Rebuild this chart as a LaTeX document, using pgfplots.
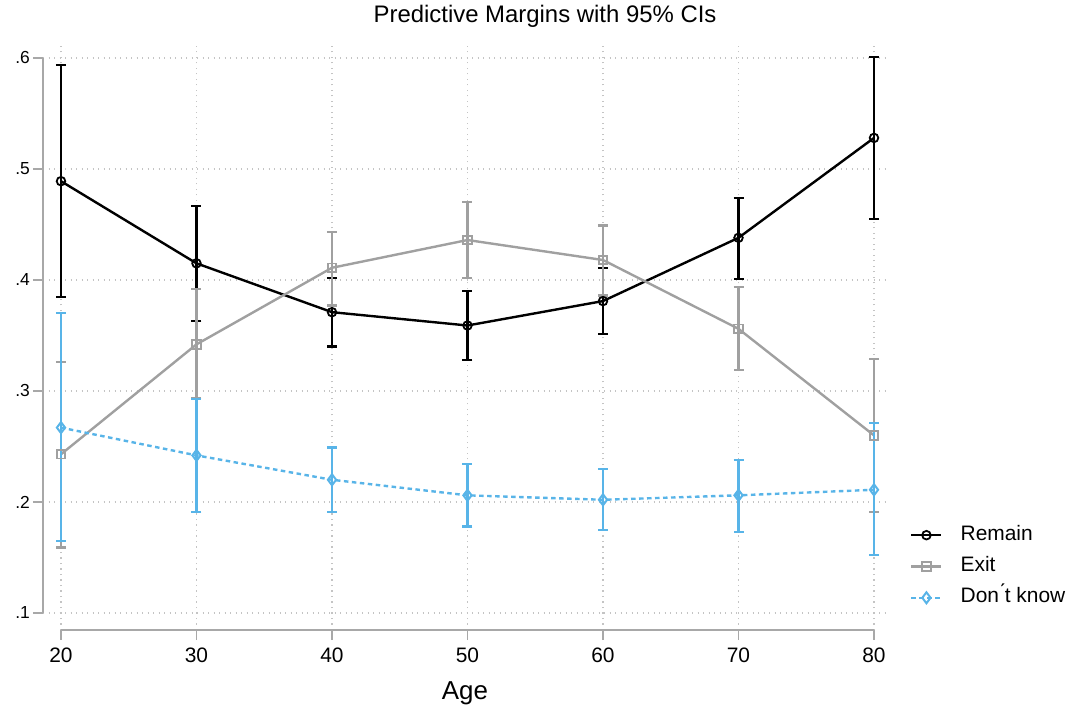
\documentclass[border=0pt]{standalone}
\usepackage{pgfplots}
\pgfplotsset{compat=1.18}
\usepackage{pgfplotstable}
\usepackage{fontspec}
\setmainfont{Liberation Sans}
\definecolor{exitgray}{HTML}{A0A0A0}
\definecolor{dkblue}{HTML}{58B4E8}
\definecolor{axgray}{HTML}{A8A8A8}
\definecolor{gridgray}{HTML}{C4C4C4}

\pgfplotstableread{
x y lo hi
20 0.489 0.385 0.594
30 0.415 0.363 0.467
40 0.371 0.340 0.402
50 0.359 0.328 0.390
60 0.381 0.351 0.411
70 0.438 0.401 0.474
80 0.528 0.455 0.601
}\remain
\pgfplotstableread{
x y lo hi
20 0.243 0.159 0.326
30 0.342 0.294 0.392
40 0.411 0.377 0.443
50 0.436 0.402 0.470
60 0.418 0.386 0.449
70 0.356 0.319 0.394
80 0.260 0.191 0.329
}\exit
\pgfplotstableread{
x y lo hi
20 0.267 0.165 0.370
30 0.242 0.191 0.293
40 0.220 0.191 0.249
50 0.206 0.178 0.234
60 0.202 0.175 0.230
70 0.206 0.173 0.238
80 0.211 0.152 0.271
}\dk

\begin{document}
\begin{tikzpicture}
\begin{axis}[
  scale only axis,
  width=844bp, height=586bp,
  xmin=18.672, xmax=80.96,
  ymin=0.08468, ymax=0.6126,
  clip=false,
  axis line style={draw=none},
  tick pos=left,
  tick align=outside,
  major tick length=10bp,
  tick style={axgray, line width=1.4bp},
  xtick={20,30,40,50,60,70,80},
  ytick={0.1,0.2,0.3,0.4,0.5,0.6},
  yticklabels={.1,.2,.3,.4,.5,.6},
  /pgf/number format/assume math mode=true,
  yticklabel style={font=\fontsize{17.5}{20}\selectfont, inner sep=0pt, anchor=east, xshift=-3bp},
  xticklabel style={font=\fontsize{21}{24}\selectfont, inner sep=0pt, anchor=base, yshift=-22bp},
  grid=major,
  major grid style={gridgray, line width=1.3bp, dash pattern=on 1.3bp off 4.2bp},
  title={Predictive Margins with 95\% CIs},
  title style={font=\fontsize{24}{27}\selectfont, at={(0.5948,1.0273)}, anchor=base, inner sep=0pt},
  xlabel={Age},
  xlabel style={font=\fontsize{26}{30}\selectfont, at={(0.5,-0.118)}, anchor=base, inner sep=0pt},
  legend cell align=left,
  legend style={draw=none, fill=none, font=\fontsize{21}{24}\selectfont,
    at={(1.0273,0.1084)}, anchor=west, inner sep=0pt,
    row sep=9.3bp,
    nodes={inner sep=2bp, text height=14bp, text depth=4bp},
    /tikz/every odd column/.append style={column sep=16bp}},
  legend image code/.code={\draw[mark repeat=2,mark phase=2,#1] plot coordinates {(0bp,0bp) (15bp,0bp) (30bp,0bp)};},
]
\draw[axgray, line width=1.6bp] (axis cs:18.672,0.1) -- (axis cs:18.672,0.6);
\draw[axgray, line width=1.6bp] (axis cs:20,0.08468) -- (axis cs:80,0.08468);

\addplot[black, line width=2.4bp, mark=o, mark size=4.3bp, mark options={solid, line width=1.8bp},
  error bars/.cd, y dir=both, y explicit,
  error bar style={black, solid, line width=2.2bp},
  error mark options={rotate=90, mark size=5bp, line width=2.2bp}]
  table[x=x, y=y, y error plus expr=\thisrow{hi}-\thisrow{y}, y error minus expr=\thisrow{y}-\thisrow{lo}] {\remain};
\addlegendentry{Remain}

\addplot[exitgray, line width=2.4bp, mark=square, mark size=4.3bp, mark options={solid, line width=1.8bp},
  error bars/.cd, y dir=both, y explicit,
  error bar style={exitgray, solid, line width=2.2bp},
  error mark options={rotate=90, mark size=5bp, line width=2.2bp}]
  table[x=x, y=y, y error plus expr=\thisrow{hi}-\thisrow{y}, y error minus expr=\thisrow{y}-\thisrow{lo}] {\exit};
\addlegendentry{Exit}

\addplot[dkblue, line width=2.4bp, dash pattern=on 4.5bp off 3.5bp, mark=diamond, mark size=5.5bp, mark options={solid, line width=2bp},
  error bars/.cd, y dir=both, y explicit,
  error bar style={dkblue, solid, line width=2.2bp},
  error mark options={rotate=90, mark size=5bp, line width=2.2bp, solid}]
  table[x=x, y=y, y error plus expr=\thisrow{hi}-\thisrow{y}, y error minus expr=\thisrow{y}-\thisrow{lo}] {\dk};
\addlegendentry{Don\'{}t know}
\end{axis}
\pgfresetboundingbox
\path (current axis.south west) ++(-43bp,-80bp) rectangle ++(1072bp,710bp);
\end{tikzpicture}
\end{document}
